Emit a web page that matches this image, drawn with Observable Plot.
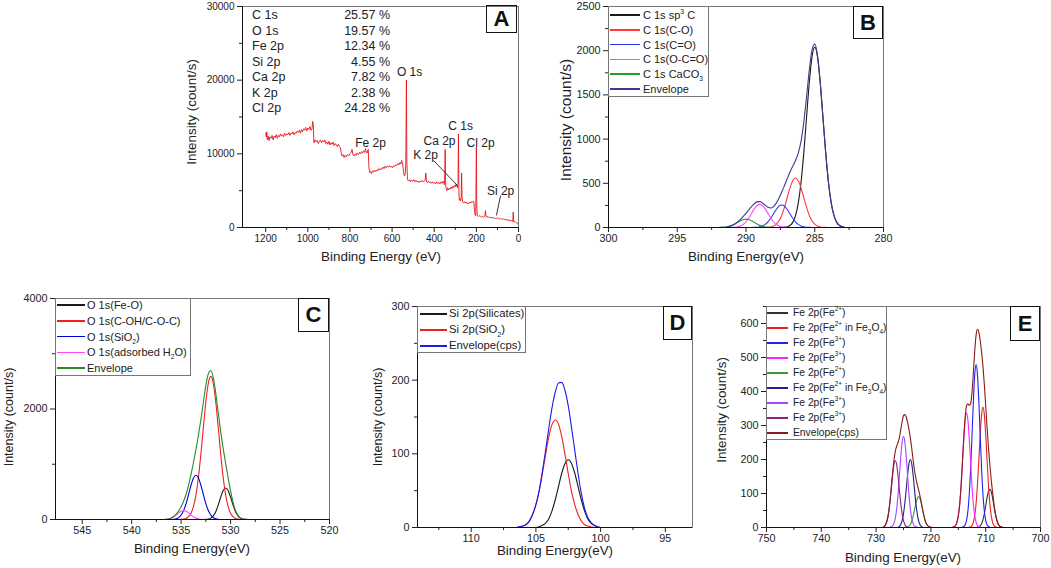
<!DOCTYPE html>
<html><head><meta charset="utf-8">
<script src="https://cdn.jsdelivr.net/npm/d3@7"></script>
<script src="https://cdn.jsdelivr.net/npm/@observablehq/plot@0.6"></script>
<style>
html,body{margin:0;padding:0;background:#fff;}
#fig{position:relative;width:1051px;height:568px;overflow:hidden;background:#fff;font-family:"Liberation Sans",Arial,sans-serif;color:#222;}
#fig svg{position:absolute;overflow:visible;}
.lab{position:absolute;white-space:nowrap;line-height:1;}
.ytitle{transform:translate(-50%,-50%) rotate(-90deg);}
.xtitle{transform:translate(-50%,-50%);}
.legend{position:absolute;border:1px solid #777;box-sizing:border-box;}
.swatch{position:absolute;height:1.5px;}
.lt{position:absolute;white-space:nowrap;line-height:1;transform:translateY(-50%);}
sub,sup{font-size:0.62em;line-height:0;}
.pid{position:absolute;border:1.5px solid #111;box-sizing:border-box;font-weight:bold;display:flex;align-items:center;justify-content:center;font-size:22px;color:#111;}
.tbl{position:absolute;line-height:1;white-space:nowrap;transform:translateY(-50%);}
</style></head><body><div id="fig"></div><script>
// ================= DATA =================
// Panel A: survey spectrum
const surveyE = [1200,1197,1195,1192,1188,1184,1180,1175,1170,1165,1160,1155,1150,1145,1140,1135,1130,1125,1120,1115,1110,1105,1100,
 1095,1090,1085,1080,1075,1070,1065,1060,1055,1050,1045,1040,1035,1030,1025,1020,1015,1010,1005,1000,
 995,990,985,980,977,974,971,966,960,955,950,945,940,935,930,925,920,915,910,905,900,
 895,890,885,880,875,870,865,860,855,850,845,842,838,833,828,823,818,812,806,800,
 795,790,786,780,775,770,765,760,755,750,745,740,735,730,726,723,719,716,713,710,707,703,
 698,693,688,683,678,673,668,663,658,653,648,643,638,633,628,623,618,613,608,603,
 598,593,588,583,578,573,568,563,558,555,550,546,542,538,535,532,530,527,
 522,517,512,507,502,497,492,487,482,477,472,467,462,457,452,447,443,
 440,437,433,428,423,418,413,408,403,398,393,388,383,378,373,368,363,358,355,352,
 350,348,346,344,340,336,332,328,324,320,316,312,308,304,300,296,293,290,287,
 285,283,281,278,275,272,270,268,265,260,255,250,245,240,235,230,225,220,215,212,
 209,206,203,200,198,195,190,185,180,175,170,165,160,157,154,150,145,140,135,130,125,120,115,110,105,100,
 95,90,85,80,75,70,65,60,55,50,45,40,35,30,27,25,23,20,15,10,5,2,0];
const surveyI = [12800,12300,13000,11900,12400,11800,12300,12100,12500,11900,12400,12200,12600,12100,12500,12300,12700,12400,12600,12300,12800,12500,12700,
 12600,12900,12500,12800,12700,13000,12600,12900,12800,13100,12900,13200,12800,13300,13000,13400,13200,13600,13100,13500,
 13300,13700,13200,13400,14400,13900,11500,11900,11600,11800,11400,11700,11900,11500,11800,11600,11900,11400,11600,11300,11700,
 11200,11500,11300,11600,11100,11400,11200,11000,11300,11000,10800,10200,9700,9900,9500,9800,9600,9900,9700,10000,
 10200,10600,9900,9700,10000,9800,10100,9900,10200,10000,10300,10100,10400,10200,10700,10300,10100,10400,10600,8200,7500,7600,
 7300,7700,7500,7800,7600,7800,7700,8000,7800,8000,7900,8200,8000,8300,8100,8300,8200,8400,8200,8300,
 8100,8400,8300,8500,8400,8700,8500,8800,8600,9100,8700,7600,7000,7200,8500,20000,9000,6500,
 6300,6500,6200,6400,6300,6500,6200,6400,6200,6300,6100,6300,6200,6400,6200,6300,6400,
 7400,6300,6100,6300,6100,6200,6000,6200,6000,6100,5900,6200,6000,6100,5900,6200,6000,6300,6100,5800,
 7000,10600,6000,5300,5000,5400,5100,5300,5200,5500,5300,5600,5400,5700,5500,5900,5600,5400,6000,
 12700,5000,3700,3900,3600,4000,7400,4200,3500,3300,3500,3300,3400,3200,3400,3300,3500,3400,3600,3500,
 2300,1700,1600,10900,2600,1600,1500,1600,1500,1400,1500,1400,1500,2300,1500,1400,1500,1350,1400,1300,1400,1250,1350,1200,1250,1300,
 1200,1150,1250,1150,1100,1200,1050,1100,1000,1050,950,1000,900,950,800,2100,900,750,800,650,600,450,350];
const compElements = ["C 1s","O 1s","Fe 2p","Si 2p","Ca 2p","K 2p","Cl 2p"];
const compPercents = [25.57,19.57,12.34,4.55,7.82,2.38,24.28];
const peakNames = ["O 1s","Fe 2p","Ca 2p","C 1s","Cl 2p","K 2p","Si 2p"];
const peakLabelE = [517,702,375,275,180,441,85];
const peakLabelI = [21040,11400,11670,13710,11400,9770,4890];
const leaderStartE = [403,85], leaderStartI = [9095,4340];
const leaderEndE = [290,105], leaderEndI = [5700,1630];

// Panel B: C 1s
const c1sE = [300,292.2,292.0,291.8,291.6,291.4,291.2,291.0,290.8,290.6,290.4,290.2,290.0,289.8,289.6,289.4,289.2,289.0,288.8,288.6,288.4,288.2,288.0,287.8,287.6,287.4,287.2,287.0,286.8,286.6,286.4,286.2,286.0,285.8,285.6,285.4,285.2,285.0,284.8,284.6,284.4,284.2,284.0,283.8,283.6,283.4,283.2,283.0,282.8,280];
const c1sSp3 = [0,0, 0,0,0,0,0,0,0,0,0,0, 0,0,0,0,0,0,0,0,0,0, 0,0,0,0,2,8,23,58,134,276, 508,839,1238,1634,1930,2040,1930,1634,1238,839, 508,276,134,58,23,8, 0,0];
const c1sCO = [0,0, 0,0,0,0,0,0,0,0,0,0, 0,0,0,0,0,0,0,1,2,6, 16,37,76,139,230,340,449,530,560,530, 449,340,230,139,76,37,16,6,2,1, 0,0,0,0,0,0, 0,0];
const c1sCeqO = [0,0, 0,0,0,0,0,0,0,0,0,0, 0,0,0,1,3,7,17,35,64,105, 155,204,241,255,241,204,155,105,64,35, 17,7,3,1,0,0,0,0,0,0, 0,0,0,0,0,0, 0,0];
const c1sOCO = [0,0, 0,0,0,0,0,1,3,8,17,35, 65,108,159,210,248,262,248,210,159,108, 65,35,17,8,3,1,0,0,0,0, 0,0,0,0,0,0,0,0,0,0, 0,0,0,0,0,0, 0,0];
const c1sCaCO3 = [0,0, 0,1,3,6,13,24,39,58,76,90, 95,90,76,58,39,24,13,6,3,1, 0,0,0,0,0,0,0,0,0,0, 0,0,0,0,0,0,0,0,0,0, 0,0,0,0,0,0, 0,0];
const c1sEnv = [0,0, 0,1,3,6,13,25,42,66,93,125, 160,198,235,269,290,293,278,252,228,220, 236,276,334,402,476,553,627,693,758,841, 974,1186,1471,1774,2006,2077,1946,1640,1240,840, 508,276,134,58,23,8, 0,0];
const c1sNames = ["C 1s sp<sup>3</sup> C","C 1s(C-O)","C 1s(C=O)","C 1s(O-C=O)","C 1s CaCO<sub>3</sub>","Envelope"];

// Panel C: O 1s
const o1sE = [547.7,537.5,537.25,537.0,536.75,536.5,536.25,536.0,535.75,535.5,535.25,535.0,534.75,534.5,534.25,534.0,533.75,533.5,533.25,533.0,532.75,532.5,532.25,532.0,531.75,531.5,531.25,531.0,530.75,530.5,530.25,530.0,529.75,529.5,529.25,529.0,528.75,528.5,528.25,528.0,527.75,527.5,520];
const o1sFeO = [0, 0,0,0,0,0,0,0,0,0,0, 0,0,0,0,0,0,0,0,0,0, 2,8,25,65,142,261,403,523,570,523, 403,261,142,65,25,8,2,0,0,0, 0, 0];
const o1sCOH = [0, 0,0,0,0,0,0,0,0,0,0, 2,7,20,50,114,237,445,764,1186,1671, 2132,2466,2590,2466,2132,1671,1186,764,445,237, 114,50,20,7,2,0,0,0,0,0, 0, 0];
const o1sSiO2 = [0, 0,0,0,0,0,0,1,5,14,35, 81,162,288,450,620,750,800,750,620,450, 288,162,81,35,14,5,1,0,0,0, 0,0,0,0,0,0,0,0,0,0, 0, 0];
const o1sH2O = [0, 0,0,0,1,4,11,25,49,82,119, 149,160,149,119,82,49,25,11,4,1, 0,0,0,0,0,0,0,0,0,0, 0,0,0,0,0,0,0,0,0,0, 0, 0];
const o1sEnv = [0, 0,0,0,1,4,11,26,54,96,154, 232,329,457,619,816,1036,1270,1525,1810,2122, 2422,2636,2696,2566,2288,1937,1590,1287,1015,760, 517,311,162,72,27,8,2,0,0,0, 0, 0];
const o1sNames = ["O 1s(Fe-O)","O 1s(C-OH/C-O-C)","O 1s(SiO<sub>2</sub>)","O 1s(adsorbed H<sub>2</sub>O)","Envelope"];

// Panel D: Si 2p
const si2pE = [112.7,106.5,106.25,106.0,105.75,105.5,105.25,105.0,104.75,104.5,104.25,104.0,103.75,103.5,103.25,103.0,102.75,102.5,102.25,102.0,101.75,101.5,101.25,101.0,100.75,100.5,100.25,100.0,99.75,99.5,99.25,99.0,95.6];
const si2pSilicates = [0, 0,0,0,0,0,0,0,1,3,6, 12,23,38,56,74,87,92,87,74,56, 38,23,12,6,3,1,0,0,0,0, 0, 0];
const si2pSiO2 = [0, 0,1,2,4,9,18,31,49,73,99, 123,140,146,140,123,99,73,49,31,18, 9,4,2,1,0,0,0,0,0,0, 0, 0];
const si2pEnv = [0, 0,1,2,4,9,18,31,50,76,105, 135,163,184,196,197,186,165,136,105,74, 47,27,14,7,3,1,0,0,0,0, 0, 0];
const si2pNames = ["Si 2p(Silicates)","Si 2p(SiO<sub>2</sub>)","Envelope(cps)"];

// Panel E: Fe 2p
const fe2p12E = [729.5,729.25,729.0,728.75,728.5,728.25,728.0,727.75,727.5,727.25,727.0,726.75,726.5,726.25,726.0,725.75,725.5,725.25,725.0,724.75,724.5,724.25,724.0,723.75,723.5,723.25,723.0,722.75,722.5,722.25,722.0,721.75,721.5,721.25,721.0,720.75,720.5,720.25,720.0,719.75,719.5];
const fe2p32E = [716.5,716.25,716.0,715.75,715.5,715.25,715.0,714.75,714.5,714.25,714.0,713.75,713.5,713.25,713.0,712.75,712.5,712.25,712.0,711.75,711.5,711.25,711.0,710.75,710.5,710.25,710.0,709.75,709.5,709.25,709.0,708.75,708.5,708.25,708.0,707.75,707.5,707.25,707.0,706.75,706.5];
const feBaselineEnds = [745,702.7];
const fe32_Fe2 = [0,0,0,0,0,0,0,0,0,0, 0,0,0,0,0,0,0,0,0,0, 1,2,5,11,23,41,64,88,106,113, 106,88,64,41,23,11,5,2,1,0, 0];
const fe32_Fe2Fe3O4 = [0,0,0,0,0,0,0,0,0,0, 0,0,0,0,1,2,6,16,36,72, 127,199,274,332,354,332,274,199,127,72, 36,16,6,2,1,0,0,0,0,0, 0];
const fe32_Fe3a = [0,0,0,0,0,0,0,0,0,1, 3,8,21,48,97,172,270,371,449,479, 449,371,270,172,97,48,21,8,3,1, 0,0,0,0,0,0,0,0,0,0, 0];
const fe32_Fe3b = [0,0,1,2,6,15,34,68,121,190, 261,316,337,316,261,190,121,68,34,15, 6,2,1,0,0,0,0,0,0,0, 0,0,0,0,0,0,0,0,0,0, 0];
const fe12_Fe2 = [0,0,0,0,0,0,0,0,0,0, 0,0,0,0,0,0,0,0,0,0, 1,2,4,9,18,33,51,71,85,91, 85,71,51,33,18,9,4,2,1,0, 0];
const fe12_Fe2Fe3O4 = [0,0,0,0,0,0,0,0,0,0, 0,0,0,0,1,3,9,20,41,72, 113,155,188,200,188,155,113,72,41,20, 9,3,1,0,0,0,0,0,0,0, 0];
const fe12_Fe3a = [0,0,0,0,0,0,0,0,1,2, 5,12,27,54,96,151,208,251,268,251, 208,151,96,54,27,12,5,2,1,0, 0,0,0,0,0,0,0,0,0,0, 0];
const fe12_Fe3b = [0,0,0,1,3,9,20,40,71,111, 153,185,197,185,153,111,71,40,20,9, 3,1,0,0,0,0,0,0,0,0, 0,0,0,0,0,0,0,0,0,0, 0];
const fe12Env = [0,0,0,1,3,9,20,40,72,113, 158,197,224,239,250,265,288,311,329,332, 325,309,288,263,233,200,169,145,127,111, 94,74,52,33,18,9,4,2,1,0, 0];
const fe32Env = [0,0,1,2,6,15,34,68,121,191, 264,324,358,364,359,364,397,455,519,566, 583,574,550,515,474,421,359,295,236,186, 142,104,70,43,24,11,5,2,1,0, 0];
const fe2pNames = ["Fe 2p(Fe<sup>2+</sup>)","Fe 2p(Fe<sup>2+</sup> in Fe<sub>3</sub>O<sub>4</sub>)","Fe 2p(Fe<sup>3+</sup>)","Fe 2p(Fe<sup>3+</sup>)","Fe 2p(Fe<sup>2+</sup>)","Fe 2p(Fe<sup>2+</sup> in Fe<sub>3</sub>O<sub>4</sub>)","Fe 2p(Fe<sup>3+</sup>)","Fe 2p(Fe<sup>3+</sup>)","Envelope(cps)"];

// ================= STYLE =================
const colB = ["#1a1a1a","#ff3a3a","#2b3cf0","#ff44ff","#23a023","#3b3b92"];
const colC = ["#1a1a1a","#ee2020","#0000dd","#ff44ff","#2a8a2a"];
const colD = ["#1a1a1a","#ee2020","#1a1aee"];
const colE = ["#333333","#ee2020","#2222ee","#ff22ff","#3a9a3a","#22228a","#aa44ff","#882288","#8b1a1a"];
const FONT = '"Liberation Sans", Arial, sans-serif';

// ================= HELPERS =================
const fig = document.getElementById("fig");
const tbl = (E, I) => E.map((e, i) => ({E: e, I: I[i]})).sort((a, b) => b.E - a.E);
function el(cls, html, style) {
  const d = document.createElement("div");
  d.className = cls; d.innerHTML = html;
  Object.assign(d.style, style);
  fig.appendChild(d);
  return d;
}
function panel(cfg) {
  const [L, T, R, B] = cfg.frame;
  const ml = cfg.ml, mt = 10, mr = cfg.mr ?? 12, mb = 32;
  const fs = cfg.fs;
  const svg = Plot.plot({
    width: (R - L) + ml + mr, height: (B - T) + mt + mb,
    marginLeft: ml, marginRight: mr, marginTop: mt, marginBottom: mb,
    x: {domain: cfg.xDomain, label: null},
    y: {domain: cfg.yDomain, label: null},
    style: {fontFamily: FONT, fontSize: fs + "px", color: "#222", background: "transparent", overflow: "visible"},
    marks: [
      ...cfg.marks,
      Plot.frame({stroke: "#777", strokeWidth: 1}),
      Plot.ruleX([cfg.xDomain[0]], {stroke: "#111", strokeWidth: 1}),
      Plot.ruleY([cfg.yDomain[0]], {stroke: "#111", strokeWidth: 1}),
      Plot.axisX({ticks: cfg.xMajor, tickSize: 5, tickPadding: 2, tickFormat: d => String(d), label: null, fontSize: fs}),
      Plot.axisX({ticks: cfg.xMinor, tickSize: 3, tickFormat: () => "", label: null}),
      Plot.axisY({ticks: cfg.yMajor, tickSize: 5, tickPadding: 3, tickFormat: d => String(d), label: null, fontSize: fs}),
      Plot.axisY({ticks: cfg.yMinor, tickSize: 3, tickFormat: () => "", label: null})
    ]
  });
  svg.style.left = (L - ml) + "px";
  svg.style.top = (T - mt) + "px";
  svg.style.maxWidth = "none";
  fig.appendChild(svg);
}
function lines(list) {
  return list.map(([E, I, c]) => Plot.line(tbl(E, I), {x: "E", y: "I", stroke: c, strokeWidth: 1.1, curve: "monotone-x"}));
}
function legend(box, names, colors, o) {
  el("legend", "", {left: box[0] + "px", top: box[1] + "px", width: (box[2] - box[0]) + "px", height: (box[3] - box[1]) + "px"});
  names.forEach((n, i) => {
    const y = o.y0 + i * o.step;
    el("swatch", "", {left: o.x0 + "px", top: (y - 0.75) + "px", width: (o.x1 - o.x0) + "px", backgroundColor: colors[i]});
    el("lt", n, {left: o.tx + "px", top: y + "px", fontSize: o.fs + "px"});
  });
}
function titles(yt, xt) {
  el("lab ytitle", yt[0], {left: yt[1] + "px", top: yt[2] + "px", fontSize: yt[3] + "px"});
  el("lab xtitle", xt[0], {left: xt[1] + "px", top: xt[2] + "px", fontSize: xt[3] + "px"});
}
function pid(t, b) {
  el("pid", t, {left: b[0] + "px", top: b[1] + "px", width: (b[2] - b[0]) + "px", height: (b[3] - b[1]) + "px"});
}

// ================= PANEL A =================
panel({
  frame: [242, 6, 518, 227], ml: 60, fs: 10,
  xDomain: [1310, 0], yDomain: [0, 30000],
  xMajor: [1200, 1000, 800, 600, 400, 200, 0], xMinor: [1100, 900, 700, 500, 300, 100],
  yMajor: [0, 10000, 20000, 30000], yMinor: [5000, 15000, 25000],
  marks: [
    Plot.line(surveyE.map((e, i) => ({E: e, I: surveyI[i]})), {x: "E", y: "I", stroke: "#e8141b", strokeWidth: 0.9}),
    Plot.text(peakNames.map((n, i) => ({n, E: peakLabelE[i], I: peakLabelI[i]})), {x: "E", y: "I", text: "n", fontSize: 12, fill: "#222"}),
    Plot.link(leaderStartE.map((e, i) => ({x1: e, y1: leaderStartI[i], x2: leaderEndE[i], y2: leaderEndI[i]})), {x1: "x1", y1: "y1", x2: "x2", y2: "y2", stroke: "#222", strokeWidth: 0.9})
  ]
});
compElements.forEach((n, i) => {
  const y = 15 + i * 15.5;
  el("tbl", n, {left: "252px", top: y + "px", fontSize: "12.5px"});
  el("tbl", compPercents[i].toFixed(2) + " %", {left: "300px", width: "90px", textAlign: "right", top: y + "px", fontSize: "12.5px"});
});
titles(["Intensity (count/s)", 192, 112, 13.4], ["Binding Energy (eV)", 381, 257, 13.4]);
pid("A", [486, 5, 517, 33]);

// ================= PANEL B =================
panel({
  frame: [608, 6, 883, 227], ml: 55, fs: 10.8,
  xDomain: [300, 280], yDomain: [0, 2500],
  xMajor: [300, 295, 290, 285, 280], xMinor: [297.5, 292.5, 287.5, 282.5],
  yMajor: [0, 500, 1000, 1500, 2000, 2500], yMinor: [250, 750, 1250, 1750, 2250],
  marks: lines([[c1sE, c1sSp3, colB[0]], [c1sE, c1sCO, colB[1]], [c1sE, c1sCeqO, colB[2]], [c1sE, c1sOCO, colB[3]], [c1sE, c1sCaCO3, colB[4]], [c1sE, c1sEnv, colB[5]]])
});
legend([608, 6, 709, 97], c1sNames, colB, {y0: 15, step: 14.8, x0: 610, x1: 640, tx: 643, fs: 11});
titles(["Intensity (count/s)", 566, 120, 15.5], ["Binding Energy(eV)", 746, 257, 13.4]);
pid("B", [853, 6, 883, 39]);

// ================= PANEL C =================
panel({
  frame: [55, 298, 329, 519], ml: 55, fs: 10.8,
  xDomain: [547.7, 520], yDomain: [0, 4000],
  xMajor: [545, 540, 535, 530, 525, 520], xMinor: [542.5, 537.5, 532.5, 527.5, 522.5],
  yMajor: [0, 2000, 4000], yMinor: [1000, 3000],
  marks: lines([[o1sE, o1sFeO, colC[0]], [o1sE, o1sCOH, colC[1]], [o1sE, o1sSiO2, colC[2]], [o1sE, o1sH2O, colC[3]], [o1sE, o1sEnv, colC[4]]])
});
legend([55, 298, 191, 376], o1sNames, colC, {y0: 305, step: 15.75, x0: 57, x1: 85, tx: 87, fs: 11});
titles(["Intensity (count/s)", 9, 417, 12.5], ["Binding Energy(eV)", 192, 549, 13.4]);
pid("C", [298, 298, 329, 332]);

// ================= PANEL D =================
panel({
  frame: [417, 306, 692, 527], ml: 55, fs: 10.8,
  xDomain: [114.15, 92.9], yDomain: [0, 300],
  xMajor: [110, 105, 100, 95], xMinor: [112.5, 107.5, 102.5, 97.5],
  yMajor: [0, 100, 200, 300], yMinor: [50, 150, 250],
  marks: lines([[si2pE, si2pSilicates, colD[0]], [si2pE, si2pSiO2, colD[1]], [si2pE, si2pEnv, colD[2]]])
});
legend([417, 306, 526, 353], si2pNames, colD, {y0: 314, step: 16, x0: 420, x1: 447, tx: 449, fs: 11.3});
titles(["Intensity (count/s)", 378, 417, 12.5], ["Binding Energy(eV)", 555, 551, 13.4]);
pid("D", [663, 306, 692, 340]);

// ================= PANEL E =================
const feEnvE = [feBaselineEnds[0]].concat(fe2p12E, fe2p32E, [feBaselineEnds[1]]);
const feEnvI = [0].concat(fe12Env, fe32Env, [0]);
panel({
  frame: [766, 306, 1040, 527], ml: 55, mr: 11, fs: 10.8,
  xDomain: [750, 700], yDomain: [0, 650],
  xMajor: [750, 740, 730, 720, 710, 700], xMinor: [745, 735, 725, 715, 705],
  yMajor: [0, 100, 200, 300, 400, 500, 600], yMinor: [50, 150, 250, 350, 450, 550, 650],
  marks: lines([
    [fe2p32E, fe32_Fe2, colE[0]], [fe2p32E, fe32_Fe2Fe3O4, colE[1]], [fe2p32E, fe32_Fe3a, colE[2]], [fe2p32E, fe32_Fe3b, colE[3]],
    [fe2p12E, fe12_Fe2, colE[4]], [fe2p12E, fe12_Fe2Fe3O4, colE[5]], [fe2p12E, fe12_Fe3a, colE[6]], [fe2p12E, fe12_Fe3b, colE[7]],
    [feEnvE, feEnvI, colE[8]]
  ])
});
legend([766, 306, 887, 440], fe2pNames, colE, {y0: 313, step: 15, x0: 767, x1: 788, tx: 793, fs: 10.3});
titles(["Intensity (count/s)", 722, 410, 13.4], ["Binding Energy(eV)", 903, 558, 13.4]);
pid("E", [1010, 306, 1040, 341]);
</script></body></html>
